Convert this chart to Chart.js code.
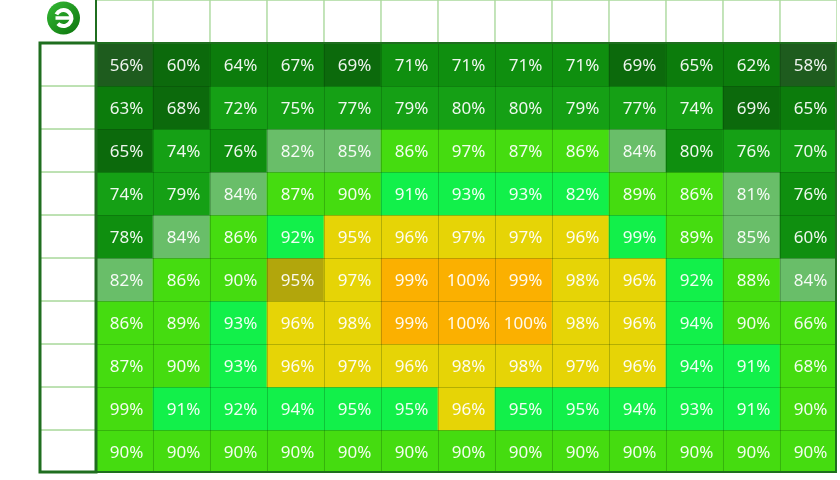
<!DOCTYPE html>
<html>
<head>
<meta charset="utf-8">
<script src="https://cdn.jsdelivr.net/npm/chart.js@4.4.0/dist/chart.umd.min.js"></script>
<style>
  html, body { margin: 0; padding: 0; background: #fff; }
  #wrap { width: 840px; height: 480px; }
</style>
</head>
<body>
<div id="wrap"><canvas id="heat"></canvas></div>
<script>
// header / row labels are blank in the source image
const colLabels = ['', '', '', '', '', '', '', '', '', '', '', '', ''];
const rowLabels = ['', '', '', '', '', '', '', '', '', ''];

// percentage values, one array per row (top to bottom)
const row01 = [56, 60, 64, 67, 69, 71, 71, 71, 71, 69, 65, 62, 58];
const row02 = [63, 68, 72, 75, 77, 79, 80, 80, 79, 77, 74, 69, 65];
const row03 = [65, 74, 76, 82, 85, 86, 97, 87, 86, 84, 80, 76, 70];
const row04 = [74, 79, 84, 87, 90, 91, 93, 93, 82, 89, 86, 81, 76];
const row05 = [78, 84, 86, 92, 95, 96, 97, 97, 96, 99, 89, 85, 60];
const row06 = [82, 86, 90, 95, 97, 99, 100, 99, 98, 96, 92, 88, 84];
const row07 = [86, 89, 93, 96, 98, 99, 100, 100, 98, 96, 94, 90, 66];
const row08 = [87, 90, 93, 96, 97, 96, 98, 98, 97, 96, 94, 91, 68];
const row09 = [99, 91, 92, 94, 95, 95, 96, 95, 95, 94, 93, 91, 90];
const row10 = [90, 90, 90, 90, 90, 90, 90, 90, 90, 90, 90, 90, 90];
const values = [row01, row02, row03, row04, row05, row06, row07, row08, row09, row10];

// colour of each cell (style table, same shape as values)
const tones = {
  a: '#1e5c1e', b: '#0c6a0c', c: '#0c7c0c', d: '#0f8f0f', e: '#15a015',
  p: '#69be69', l: '#45dc10', m: '#12f04a', y: '#e6d406', o: '#b2a60c', r: '#fbb000'
};
const toneGrid = [
  'abccbddddbcca',
  'cbeeeeeeeeebc',
  'bedppllllpdee',
  'eepllmmmmllpd',
  'dplmyyyyymlpd',
  'plloyrrryymlp',
  'llmyyrrryymll',
  'llmyyyyyyymml',
  'lmmmmmymmmmml',
  'lllllllllllll'
];

const nCols = colLabels.length + 1; // first column = row label column
const headerLine = '#a9d99b';

const datasets = [];
// header row
datasets.push({
  data: Array(nCols).fill(1),
  backgroundColor: Array.from({ length: nCols }, (_, i) => i === 0 ? 'rgba(0,0,0,0)' : '#ffffff'),
  borderColor: Array.from({ length: nCols }, (_, i) => i === 0 ? 'rgba(0,0,0,0)' : headerLine),
  borderWidth: 1,
  borderSkipped: false,
  stack: 's'
});
values.forEach((row, r) => {
  datasets.push({
    data: Array(nCols).fill(1),
    backgroundColor: ['#ffffff'].concat(row.map((_, c) => tones[toneGrid[r][c]])),
    borderColor: [headerLine].concat(row.map(() => 'rgba(0,0,0,0)')),
    borderWidth: [1].concat(row.map(() => 0)),
    borderSkipped: false,
    stack: 's'
  });
});

const cellText = {
  id: 'cellText',
  afterDatasetsDraw(chart) {
    const ctx = chart.ctx;
    const a = chart.chartArea;
    ctx.save();
    // thin dark seams between coloured cells
    const first = chart.getDatasetMeta(1).data[1];
    const x0 = first.x - first.width / 2;
    const y0 = Math.min(first.y, first.base);
    const w = first.width, h = Math.abs(first.base - first.y);
    ctx.strokeStyle = 'rgba(0,40,0,0.22)';
    ctx.lineWidth = 1;
    ctx.beginPath();
    for (let c = 1; c < colLabels.length; c++) {
      ctx.moveTo(x0 + c * w + 0.5, y0);
      ctx.lineTo(x0 + c * w + 0.5, a.bottom);
    }
    for (let r = 1; r < values.length; r++) {
      ctx.moveTo(x0, y0 + r * h + 0.5);
      ctx.lineTo(a.right, y0 + r * h + 0.5);
    }
    ctx.stroke();

    ctx.font = '17px "Noto Sans", sans-serif';
    ctx.textAlign = 'center';
    ctx.textBaseline = 'middle';
    ctx.fillStyle = 'rgba(255,255,255,0.93)';
    values.forEach((row, r) => {
      const meta = chart.getDatasetMeta(r + 1);
      row.forEach((v, c) => {
        const el = meta.data[c + 1];
        const cy = (el.y + el.base) / 2;
        ctx.fillText(v + '%', el.x + 2, cy + 2);
      });
    });
    ctx.restore();
  }
};

const frame = {
  id: 'frame',
  afterDraw(chart) {
    const ctx = chart.ctx;
    const a = chart.chartArea;
    const first = chart.getDatasetMeta(1).data[0];
    const labelRight = first.x + first.width / 2;
    const top = Math.min(first.y, first.base);
    ctx.save();
    ctx.strokeStyle = '#1f6e1f';
    ctx.lineWidth = 3;
    ctx.strokeRect(a.left + 1, top, labelRight - a.left - 1, a.bottom - top - 1);
    ctx.lineWidth = 2;
    ctx.strokeRect(labelRight, top, a.right - labelRight - 1, a.bottom - top - 1);
    ctx.beginPath();
    ctx.moveTo(labelRight, a.top);
    ctx.lineTo(labelRight, top);
    ctx.stroke();

    // logo in the empty corner
    const lx = (a.left + labelRight) / 2 - 4, ly = 18;
    const g = ctx.createLinearGradient(lx - 16, ly - 16, lx + 16, ly + 16);
    g.addColorStop(0, '#35b935');
    g.addColorStop(1, '#0c740c');
    ctx.fillStyle = g;
    ctx.beginPath();
    ctx.arc(lx, ly, 16.5, 0, Math.PI * 2);
    ctx.fill();
    ctx.strokeStyle = '#ffffff';
    ctx.lineWidth = 4;
    ctx.beginPath();
    ctx.arc(lx, ly, 8, -Math.PI * 0.85, Math.PI * 0.75);
    ctx.stroke();
    ctx.lineWidth = 3.5;
    ctx.beginPath();
    ctx.moveTo(lx - 8, ly);
    ctx.lineTo(lx + 8, ly);
    ctx.stroke();
    ctx.restore();
  }
};

new Chart(document.getElementById('heat'), {
  type: 'bar',
  data: {
    labels: [''].concat(colLabels),
    datasets: datasets
  },
  options: {
    responsive: true,
    maintainAspectRatio: false,
    animation: false,
    layout: { padding: { left: 39, right: 3, top: 0, bottom: 7 } },
    datasets: { bar: { categoryPercentage: 1, barPercentage: 1 } },
    plugins: { legend: { display: false }, tooltip: { enabled: false } },
    scales: {
      x: { stacked: true, display: false },
      y: { stacked: true, display: false, min: 0, max: values.length + 1, reverse: true }
    }
  },
  plugins: [cellText, frame]
});
</script>
</body>
</html>
